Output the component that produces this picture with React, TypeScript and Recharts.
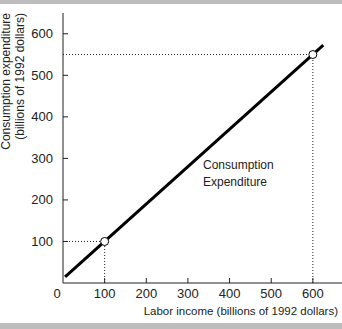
import { ComposedChart, Line, Scatter, XAxis, YAxis, ReferenceLine } from 'recharts';

// consumption function: straight line through the two marked points
const lineIncome = [5, 625];
const lineSpending = [14.5, 572.5];

// the two highlighted points
const markIncome = [100, 600];
const markSpending = [100, 550];

const xTicks = [0, 100, 200, 300, 400, 500, 600];
const yTicks = [50, 100, 150, 200, 250, 300, 350, 400, 450, 500, 550, 600];

const lineData = lineIncome.map((x, i) => ({ x, y: lineSpending[i] }));
const markData = markIncome.map((x, i) => ({ x, y: markSpending[i] }));

const font = '"Liberation Sans", Arial, sans-serif';
const ink = '#222';

function YTick(props: any) {
  const { x, y, payload } = props;
  const v = payload.value;
  return (
    <g>
      <line x1={x} x2={x + 5} y1={y} y2={y} stroke={ink} strokeWidth={1} />
      {v % 100 === 0 && (
        <text x={x - 10} y={y + 4.5} textAnchor="end" fontSize={13} fontFamily={font} fill={ink}>
          {v}
        </text>
      )}
    </g>
  );
}

function XTick(props: any) {
  const { x, y, payload } = props;
  const v = payload.value;
  if (v === 0) {
    return (
      <text x={x - 6} y={y + 15} textAnchor="middle" fontSize={13} fontFamily={font} fill={ink}>
        0
      </text>
    );
  }
  return (
    <g>
      <line x1={x} x2={x} y1={y} y2={y - 5} stroke={ink} strokeWidth={1} />
      <text x={x} y={y + 15} textAnchor="middle" fontSize={13} fontFamily={font} fill={ink}>
        {v}
      </text>
    </g>
  );
}

const Dot = (props: any) => (
  <circle cx={props.cx} cy={props.cy} r={4} fill="#fff" stroke="#000" strokeWidth={1} />
);

export default function App() {
  return (
    <div style={{ position: 'absolute', left: 0, top: 0, width: 342, height: 329, background: '#fff' }}>
      <div style={{ position: 'absolute', left: 0, top: 0, width: 342, height: 4, background: '#bdbdbd' }} />
      <div style={{ position: 'absolute', left: 0, top: 323, width: 342, height: 6, background: '#bdbdbd' }} />
      <ComposedChart
        width={342}
        height={329}
        margin={{ top: 13, right: 0, bottom: 0, left: 0 }}
        style={{ position: 'absolute', left: 0, top: 0 }}
      >
        <XAxis
          type="number"
          dataKey="x"
          domain={[0, 670]}
          ticks={xTicks}
          height={46}
          tickSize={0}
          tickMargin={0}
          tick={<XTick />}
          tickLine={false}
          axisLine={{ stroke: ink, strokeWidth: 1 }}
          allowDataOverflow
          label={() => (
            <text x={338} y={315} textAnchor="end" fontSize={11.5} fontFamily={font} fill={ink}>
              Labor income (billions of 1992 dollars)
            </text>
          )}
        />
        <YAxis
          type="number"
          dataKey="y"
          domain={[0, 650]}
          ticks={yTicks}
          width={63}
          tickSize={0}
          tickMargin={0}
          tick={<YTick />}
          tickLine={false}
          axisLine={{ stroke: ink, strokeWidth: 1 }}
          allowDataOverflow
          label={() => (
            <g fontSize={12} fontFamily={font} fill={ink}>
              <text x={10} y={13} textAnchor="end" transform="rotate(-90 10 13)">
                Consumption expenditure
              </text>
              <text x={24} y={13} textAnchor="end" transform="rotate(-90 24 13)">
                (billions of 1992 dollars)
              </text>
            </g>
          )}
        />
        <ReferenceLine segment={[{ x: 0, y: markSpending[1] }, { x: markIncome[1], y: markSpending[1] }]} stroke={ink} strokeDasharray="1 2" />
        <ReferenceLine segment={[{ x: markIncome[1], y: 0 }, { x: markIncome[1], y: markSpending[1] }]} stroke={ink} strokeDasharray="1 2" />
        <ReferenceLine segment={[{ x: 0, y: markSpending[0] }, { x: markIncome[0], y: markSpending[0] }]} stroke={ink} strokeDasharray="1 2" />
        <ReferenceLine segment={[{ x: markIncome[0], y: 0 }, { x: markIncome[0], y: markSpending[0] }]} stroke={ink} strokeDasharray="1 2" />
        <Line
          data={lineData}
          dataKey="y"
          type="linear"
          stroke="#000"
          strokeWidth={3}
          dot={false}
          activeDot={false}
          isAnimationActive={false}
        />
        <Scatter data={markData} dataKey="y" shape={<Dot />} isAnimationActive={false} />
      </ComposedChart>
      <svg width={342} height={329} style={{ position: 'absolute', left: 0, top: 0, pointerEvents: 'none' }}>
        <text fontSize={12} fontFamily={font} fill={ink}>
          <tspan x={203} y={169}>Consumption</tspan>
          <tspan x={203} y={186}>Expenditure</tspan>
        </text>
      </svg>
    </div>
  );
}
